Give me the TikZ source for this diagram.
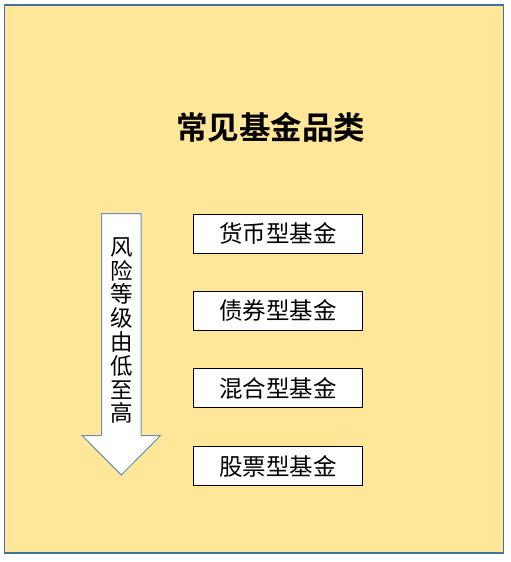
\documentclass[tikz,border=0pt]{standalone}
\usepackage{fontspec}
\newfontfamily\cjk{Noto Sans CJK SC}
\newfontfamily\cjkb{Noto Sans CJK SC Bold}
\definecolor{bgyellow}{HTML}{FFE699}
\definecolor{frameblue}{HTML}{41719C}
\definecolor{arrowblue}{HTML}{6A8FB5}
\tikzset{
  fundbox/.style={draw=black, fill=white, line width=1pt, minimum width=169pt, minimum height=39pt, inner sep=0pt, font=\cjk\fontsize{23.5}{25}\selectfont},
}
\begin{document}
\begin{tikzpicture}[x=1pt, y=-1pt]
\useasboundingbox (0,0) rectangle (511,562);
\fill[white] (0,0) rectangle (511,562);
\draw[frameblue, fill=bgyellow, line width=1.2pt] (4.5,5) rectangle (503.5,553);
\node[font=\cjkb\fontsize{31.5}{33}\selectfont, inner sep=0pt] (title) at (270.5,127) {常见基金品类};
\draw[arrowblue, fill=white, line width=1pt, line join=miter]
  (101.5,213.5) -- (141,213.5) -- (141,435.5) -- (160.5,435.5) -- (121.3,475) -- (82,435.5) -- (101.5,435.5) -- cycle;
\node[font=\cjk\fontsize{22.5}{23.8}\selectfont, align=center, inner sep=0pt] (risk) at (121.5,330.5) {风\\险\\等\\级\\由\\低\\至\\高};
\node[fundbox] (b1) at (277.8,233.8) {货币型基金};
\node[fundbox] (b2) at (277.8,310.8) {债券型基金};
\node[fundbox] (b3) at (277.8,388.3) {混合型基金};
\node[fundbox] (b4) at (277.8,466.2) {股票型基金};
\end{tikzpicture}
\end{document}
